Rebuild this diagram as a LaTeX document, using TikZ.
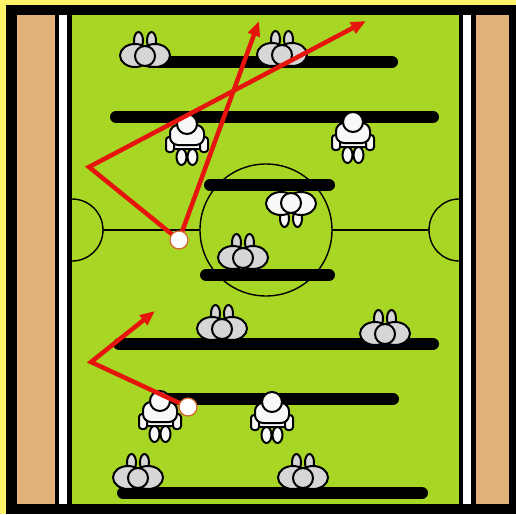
\documentclass[tikz,border=0pt]{standalone}
\usetikzlibrary{arrows.meta}

\definecolor{frameyellow}{HTML}{FCF26A}
\definecolor{woodtan}{HTML}{E0B27A}
\definecolor{pitch}{HTML}{A8D624}
\definecolor{kitgray}{HTML}{D6D6D6}
\definecolor{kitwhite}{HTML}{F8F8F8}
\definecolor{passred}{HTML}{E5150E}
\definecolor{ballrim}{HTML}{D2642E}

\pgfdeclarelayer{top}
\pgfsetlayers{main,top}

\tikzset{
  outline/.style={draw=black, line width=2pt},
  % player seen from the front: head, shoulders, arms, shorts and feet
  frontplayer/.pic={
    \path[outline, fill=kitwhite] (-5.5,33) ellipse [x radius=5pt, y radius=8pt];
    \path[outline, fill=kitwhite] (5.5,33) ellipse [x radius=5pt, y radius=8pt];
    \path[outline, fill=kitwhite] (-13,19) rectangle (13,25);
    \path[outline, fill=kitwhite, rounded corners=3pt] (-21,13) rectangle (-13,28);
    \path[outline, fill=kitwhite, rounded corners=3pt] (13,13) rectangle (21,28);
    \path[outline, fill=kitwhite, rounded corners=8pt] (-17,1) rectangle (17,21);
    \path[outline, fill=kitwhite] (0,0) circle [radius=10pt];
  },
  % player seen from behind: two shoulders, head and the tips of the feet;
  % the argument is -1 for feet pointing up the table, 1 for feet pointing down
  backplayer/.pic={
    \path[outline, pic actions] (-6.5,#1*15.5) ellipse [x radius=4.5pt, y radius=8.5pt];
    \path[outline, pic actions] (6.5,#1*15.5) ellipse [x radius=4.5pt, y radius=8.5pt];
    \path[outline, pic actions] (10,#1*0.5) ellipse [x radius=15pt, y radius=11.5pt];
    \path[outline, pic actions] (-10,#1*0.5) ellipse [x radius=15pt, y radius=11.5pt];
    \path[outline, pic actions] (0,0) circle [radius=10pt];
  }
}

\begin{document}
\begin{tikzpicture}[x=1pt, y=-1pt,
  rod/.style={line width=12pt, line cap=round, black},
  marking/.style={line width=1.4pt, black},
  pass/.style={passred, line width=4.5pt, line join=miter},
  passtip/.style={-{Triangle[length=15pt, width=12pt]}},
  ball/.style={circle, draw=ballrim, fill=white, line width=1.2pt,
               minimum size=18pt, inner sep=0pt},
]
\useasboundingbox (0,0) rectangle (516,514);

% table frame, wooden sides and rails
\fill[frameyellow] (0,0) rectangle (516,514);
\fill[black] (6,5) rectangle (516,514);
\fill[woodtan] (17,15) rectangle (55,504);
\fill[woodtan] (476,15) rectangle (509,504);
\fill[white] (59,15) rectangle (67,504);
\fill[white] (463,15) rectangle (471,504);
\fill[pitch] (72,15) rectangle (459,504);

% pitch markings
\draw[marking] (266,230) circle [radius=66pt];
\draw[marking] (72,199) arc [start angle=-90, end angle=90, x radius=31pt, y radius=-31pt];
\draw[marking] (459,199) arc [start angle=-90, end angle=-270, x radius=30pt, y radius=-31pt];
\draw[marking] (103,230) -- (200,230);
\draw[marking] (332,230) -- (429,230);

% rods
\draw[rod] (150,62) -- (392,62);
\draw[rod] (116,117) -- (433,117);
\draw[rod] (210,185) -- (329,185);
\draw[rod] (206,275) -- (329,275);
\draw[rod] (119,344) -- (433,344);
\draw[rod] (160,399) -- (393,399);
\draw[rod] (123,493) -- (422,493);

% grey team
\pic[fill=kitgray] (g1) at (145,56) {backplayer=-1};
\pic[fill=kitgray] (g2) at (282,55) {backplayer=-1};
\pic[fill=kitgray] (g3) at (243,258) {backplayer=-1};
\pic[fill=kitgray] (g4) at (222,329) {backplayer=-1};
\pic[fill=kitgray] (g5) at (385,334) {backplayer=-1};
\pic[fill=kitgray] (g6) at (138,478) {backplayer=-1};
\pic[fill=kitgray] (g7) at (303,478) {backplayer=-1};

% white team
\pic (w1) at (187,124) {frontplayer};
\pic (w2) at (353,122) {frontplayer};
\pic (w3) at (160,401) {frontplayer};
\pic (w4) at (272,402) {frontplayer};
\pic[fill=kitwhite] (w5) at (291,203) {backplayer=1};

% balls
\begin{pgfonlayer}{top}
  \node[ball] (ball1) at (179,240) {};
  \node[ball] (ball2) at (188,407) {};
\end{pgfonlayer}

% passing moves
\coordinate (k1) at (89,167);
\coordinate (t1) at (366,21);
\coordinate (t2) at (259,21);
\coordinate (k2) at (91,362);
\coordinate (t3) at (155,311);

\draw[pass, passtip] (ball1.center) -- (k1) -- (t1);
\draw[pass, passtip] (ball1.center) -- (t2);
\draw[pass, passtip] (ball2.center) -- (k2) -- (t3);

\end{tikzpicture}
\end{document}
